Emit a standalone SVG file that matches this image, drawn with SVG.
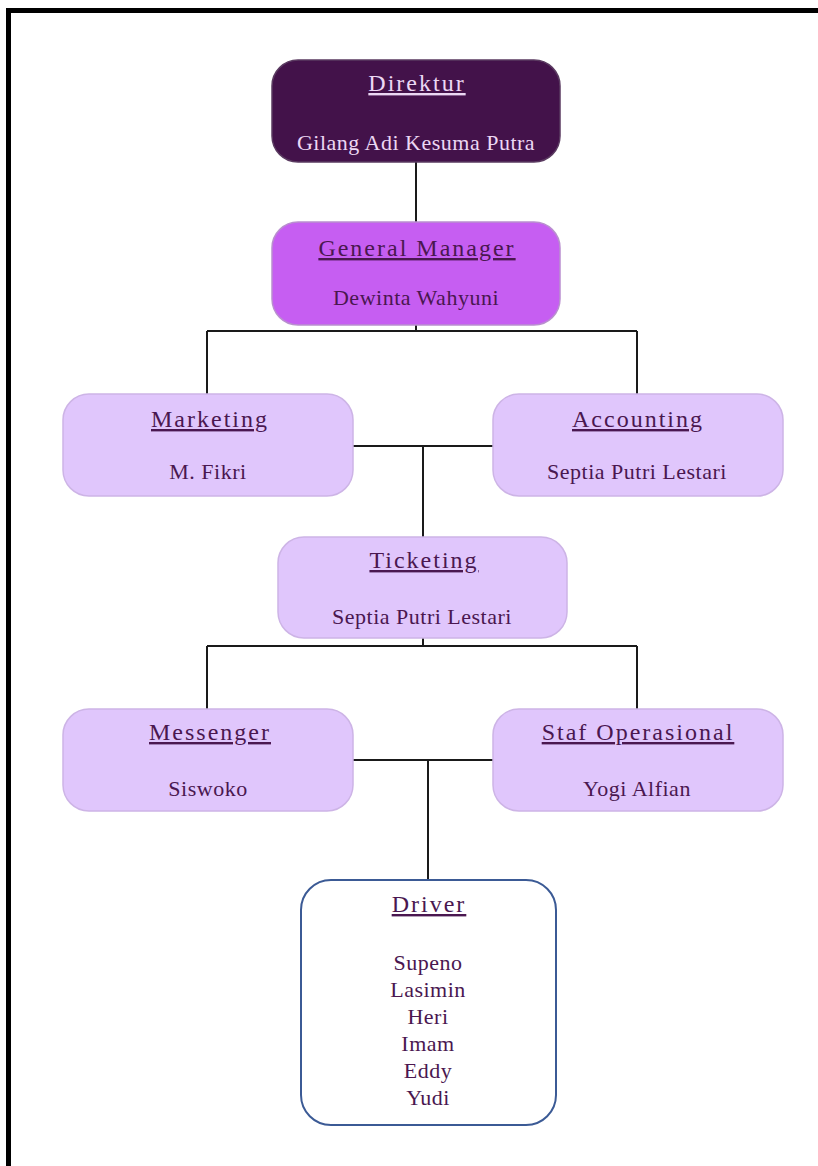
<svg xmlns="http://www.w3.org/2000/svg" width="818" height="1166" viewBox="0 0 818 1166">
<style>
.t{font-family:"Liberation Serif","Times New Roman",serif;font-size:22px;letter-spacing:0.5px;text-anchor:middle;fill:#4a1750}
.h{text-decoration:underline;font-size:24px;letter-spacing:2px}
.lt{fill:#ecd8f4}
.box{fill:#e0c6fc;stroke:#cdb4e6;stroke-width:1.5}
.c{stroke:#1a1a1a;stroke-width:2;fill:none}
</style>
<rect width="818" height="1166" fill="#ffffff"/>
<path d="M8.5 1166 V10.5 H818" fill="none" stroke="#000" stroke-width="5"/>
<g id="connectors">
<path class="c" d="M416 162 V224"/>
<path class="c" d="M416 325 V331 M207 331 H637 M207 331 V395 M637 331 V395"/>
<path class="c" d="M353 446 H493 M423 446 V538"/>
<path class="c" d="M423 638 V646 M207 646 H637 M207 646 V710 M637 646 V710"/>
<path class="c" d="M353 760 H493 M428 760 V881"/>
</g>
<g id="direktur">
<rect x="272" y="60" width="288" height="102" rx="26" fill="#43124a" stroke="#5a3a60" stroke-width="1.5"/>
<text class="t lt h" x="417" y="91">Direktur</text>
<text class="t lt" x="416" y="150">Gilang Adi Kesuma Putra</text>
</g>
<g id="gm">
<rect x="272" y="222" width="288" height="103" rx="26" fill="#c65ef2" stroke="#b98fcf" stroke-width="1.5"/>
<text class="t h" x="417" y="256" fill="#3a1240">General Manager</text>
<text class="t" x="416" y="305">Dewinta Wahyuni</text>
</g>
<g id="marketing">
<rect class="box" x="63" y="394" width="290" height="102" rx="26"/>
<text class="t h" x="210" y="427">Marketing</text>
<text class="t" x="208" y="479">M. Fikri</text>
</g>
<g id="accounting">
<rect class="box" x="493" y="394" width="290" height="102" rx="26"/>
<text class="t h" x="638" y="427">Accounting</text>
<text class="t" x="637" y="479">Septia Putri Lestari</text>
</g>
<g id="ticketing">
<rect class="box" x="278" y="537" width="289" height="101" rx="26"/>
<text class="t h" x="424" y="568">Ticketing</text>
<text class="t" x="422" y="624">Septia Putri Lestari</text>
</g>
<g id="messenger">
<rect class="box" x="63" y="709" width="290" height="102" rx="26"/>
<text class="t h" x="210" y="740">Messenger</text>
<text class="t" x="208" y="796">Siswoko</text>
</g>
<g id="staf">
<rect class="box" x="493" y="709" width="290" height="102" rx="26"/>
<text class="t h" x="638" y="740">Staf Operasional</text>
<text class="t" x="637" y="796">Yogi Alfian</text>
</g>
<g id="driver">
<rect x="301" y="880" width="255" height="245" rx="30" fill="#ffffff" stroke="#3b5a95" stroke-width="2"/>
<text class="t h" x="429" y="912">Driver</text>
<text class="t" x="428" y="970">Supeno</text>
<text class="t" x="428" y="997">Lasimin</text>
<text class="t" x="428" y="1024">Heri</text>
<text class="t" x="428" y="1051">Imam</text>
<text class="t" x="428" y="1078">Eddy</text>
<text class="t" x="428" y="1105">Yudi</text>
</g>
</svg>
